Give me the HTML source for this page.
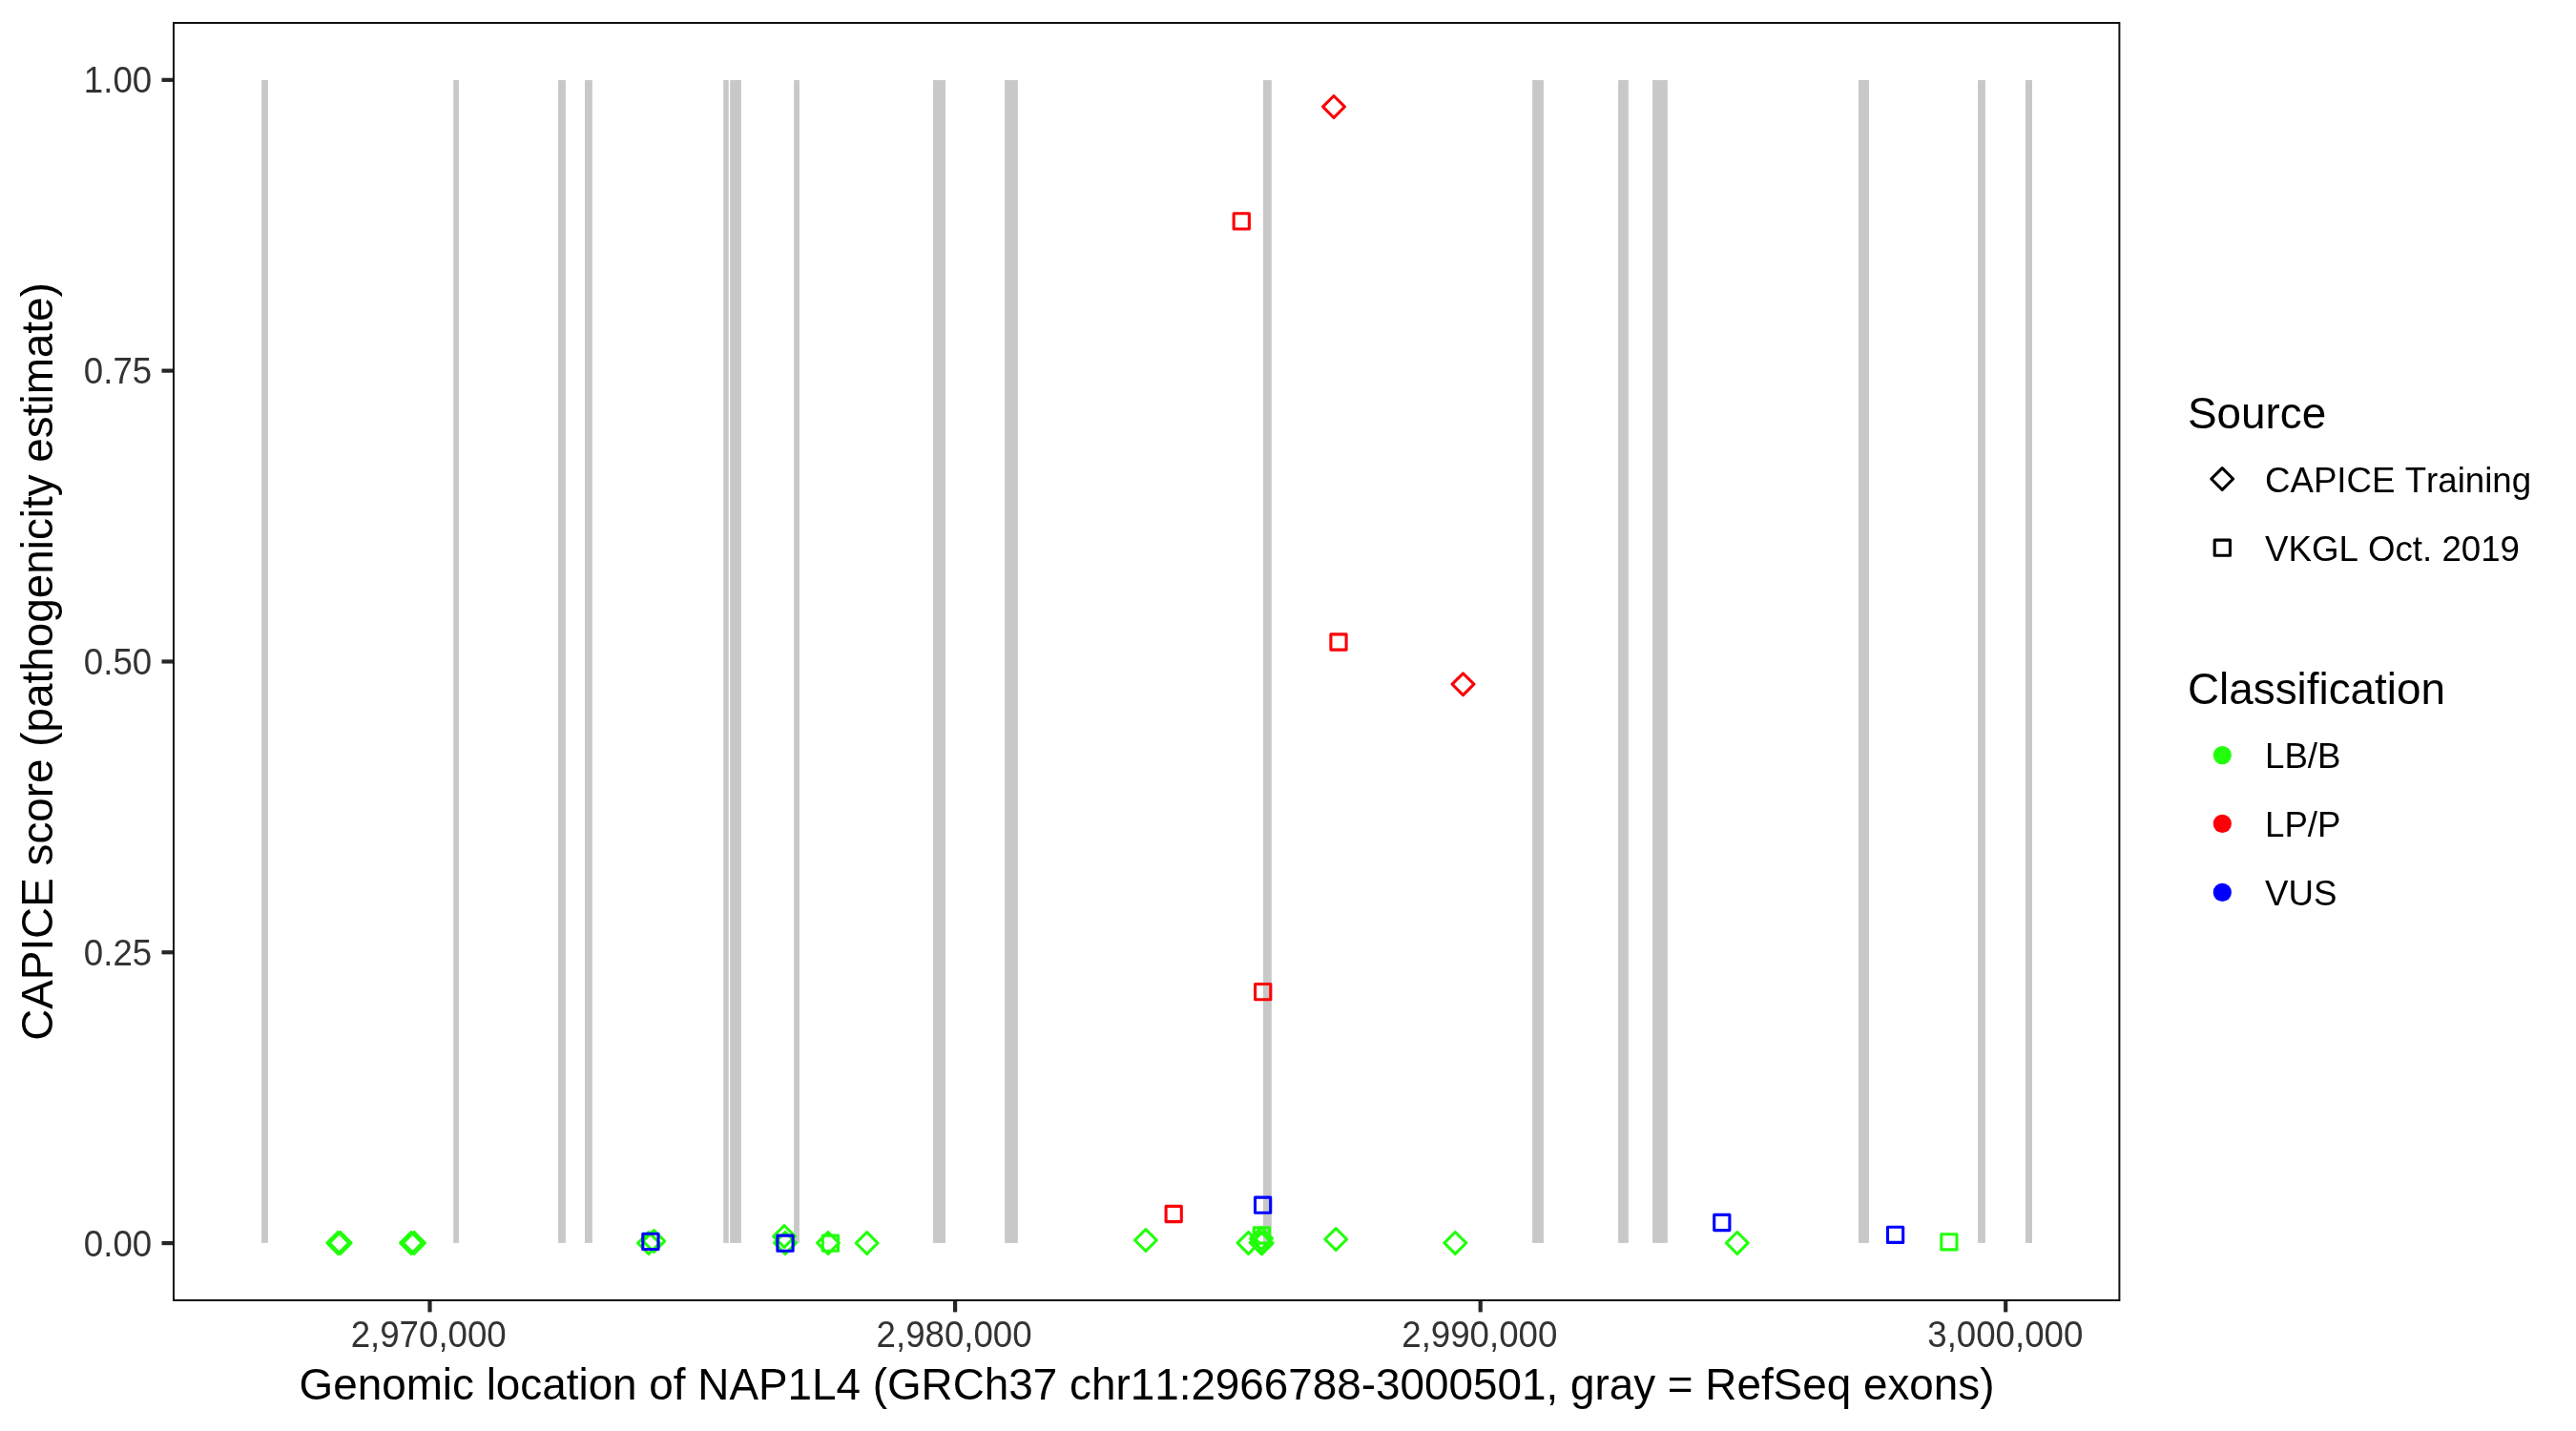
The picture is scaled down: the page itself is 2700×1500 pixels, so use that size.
<!DOCTYPE html>
<html><head><meta charset="utf-8"><title>CAPICE NAP1L4</title>
<style>
html,body{margin:0;padding:0;background:#fff;width:2700px;height:1500px;overflow:hidden}
svg{display:block;will-change:transform}
text{font-family:"Liberation Sans",Arial,Helvetica,sans-serif;font-kerning:none}
</style></head><body>
<svg width="2700" height="1500" viewBox="0 0 2700 1500">
<rect width="2700" height="1500" fill="#fff"/>

<g fill="#c8c8c8">
<rect x="274.1" y="84.0" width="6.8" height="1218.9"/>
<rect x="475.2" y="84.0" width="5.7" height="1218.9"/>
<rect x="585.1" y="84.0" width="7.8" height="1218.9"/>
<rect x="613.0" y="84.0" width="7.8" height="1218.9"/>
<rect x="758.2" y="84.0" width="5.5" height="1218.9"/>
<rect x="765.2" y="84.0" width="11.7" height="1218.9"/>
<rect x="832.1" y="84.0" width="5.8" height="1218.9"/>
<rect x="978.0" y="84.0" width="13.0" height="1218.9"/>
<rect x="1053.1" y="84.0" width="13.7" height="1218.9"/>
<rect x="1324.0" y="84.0" width="8.8" height="1218.9"/>
<rect x="1606.1" y="84.0" width="11.8" height="1218.9"/>
<rect x="1696.1" y="84.0" width="10.7" height="1218.9"/>
<rect x="1732.1" y="84.0" width="15.7" height="1218.9"/>
<rect x="1948.0" y="84.0" width="11.0" height="1218.9"/>
<rect x="2073.1" y="84.0" width="7.8" height="1218.9"/>
<rect x="2123.0" y="84.0" width="7.0" height="1218.9"/>
</g>
<g fill="none" stroke-width="3.1" stroke-linejoin="round">
<path d="M354.30 1291.50L365.70 1302.90L354.30 1314.30L342.90 1302.90Z" stroke="#22ff0b"/>
<path d="M356.70 1291.50L368.10 1302.90L356.70 1314.30L345.30 1302.90Z" stroke="#22ff0b"/>
<path d="M431.00 1291.50L442.40 1302.90L431.00 1314.30L419.60 1302.90Z" stroke="#22ff0b"/>
<path d="M434.00 1291.50L445.40 1302.90L434.00 1314.30L422.60 1302.90Z" stroke="#22ff0b"/>
<path d="M679.90 1291.60L691.30 1303.00L679.90 1314.40L668.50 1303.00Z" stroke="#22ff0b"/>
<path d="M685.40 1289.60L696.80 1301.00L685.40 1312.40L674.00 1301.00Z" stroke="#22ff0b"/>
<path d="M822.00 1284.60L833.40 1296.00L822.00 1307.40L810.60 1296.00Z" stroke="#22ff0b"/>
<path d="M823.00 1291.50L834.40 1302.90L823.00 1314.30L811.60 1302.90Z" stroke="#22ff0b"/>
<path d="M868.00 1291.50L879.40 1302.90L868.00 1314.30L856.60 1302.90Z" stroke="#22ff0b"/>
<path d="M908.60 1291.60L920.00 1303.00L908.60 1314.40L897.20 1303.00Z" stroke="#22ff0b"/>
<path d="M1200.90 1288.60L1212.30 1300.00L1200.90 1311.40L1189.50 1300.00Z" stroke="#22ff0b"/>
<path d="M1308.50 1291.50L1319.90 1302.90L1308.50 1314.30L1297.10 1302.90Z" stroke="#22ff0b"/>
<path d="M1321.50 1291.10L1332.90 1302.50L1321.50 1313.90L1310.10 1302.50Z" stroke="#22ff0b"/>
<path d="M1322.00 1286.80L1333.40 1298.20L1322.00 1309.60L1310.60 1298.20Z" stroke="#22ff0b"/>
<path d="M1322.70 1291.80L1334.10 1303.20L1322.70 1314.60L1311.30 1303.20Z" stroke="#22ff0b"/>
<path d="M1400.20 1287.60L1411.60 1299.00L1400.20 1310.40L1388.80 1299.00Z" stroke="#22ff0b"/>
<path d="M1525.30 1291.50L1536.70 1302.90L1525.30 1314.30L1513.90 1302.90Z" stroke="#22ff0b"/>
<path d="M1820.80 1291.50L1832.20 1302.90L1820.80 1314.30L1809.40 1302.90Z" stroke="#22ff0b"/>
<path d="M1398.00 100.50L1409.40 111.90L1398.00 123.30L1386.60 111.90Z" stroke="#fb0007"/>
<path d="M1533.50 705.80L1544.90 717.20L1533.50 728.60L1522.10 717.20Z" stroke="#fb0007"/>
<rect x="862.30" y="1295.10" width="16.20" height="16.20" stroke="#22ff0b"/>
<rect x="1314.30" y="1286.90" width="16.20" height="16.20" stroke="#22ff0b"/>
<rect x="2034.80" y="1293.70" width="16.20" height="16.20" stroke="#22ff0b"/>
<rect x="1293.15" y="223.80" width="16.20" height="16.20" stroke="#fb0007"/>
<rect x="1394.90" y="664.90" width="16.20" height="16.20" stroke="#fb0007"/>
<rect x="1222.10" y="1264.40" width="16.20" height="16.20" stroke="#fb0007"/>
<rect x="1315.60" y="1031.50" width="16.20" height="16.20" stroke="#fb0007"/>
<rect x="673.80" y="1293.30" width="16.20" height="16.20" stroke="#0000ff"/>
<rect x="814.90" y="1295.10" width="16.20" height="16.20" stroke="#0000ff"/>
<rect x="1315.50" y="1255.10" width="16.20" height="16.20" stroke="#0000ff"/>
<rect x="1796.70" y="1273.40" width="16.20" height="16.20" stroke="#0000ff"/>
<rect x="1978.50" y="1286.20" width="16.20" height="16.20" stroke="#0000ff"/>
</g>
<g stroke="#262626" stroke-width="4.2">
<line x1="169.5" y1="1303.10" x2="182.0" y2="1303.10"/>
<line x1="169.5" y1="998.27" x2="182.0" y2="998.27"/>
<line x1="169.5" y1="693.45" x2="182.0" y2="693.45"/>
<line x1="169.5" y1="388.62" x2="182.0" y2="388.62"/>
<line x1="169.5" y1="83.80" x2="182.0" y2="83.80"/>
<line x1="450.5" y1="1363.0" x2="450.5" y2="1375.4"/>
<line x1="1001.1" y1="1363.0" x2="1001.1" y2="1375.4"/>
<line x1="1551.7" y1="1363.0" x2="1551.7" y2="1375.4"/>
<line x1="2102.2" y1="1363.0" x2="2102.2" y2="1375.4"/>
</g>
<rect x="182.0" y="24.0" width="2039.4" height="1339.0" fill="none" stroke="#111111" stroke-width="2"/>
<g fill="#333333" font-size="36.67px">
<text transform="translate(159.2 1317) scale(1 1.035)" text-anchor="end">0.00</text>
<text transform="translate(159.2 1012) scale(1 1.035)" text-anchor="end">0.25</text>
<text transform="translate(159.2 707) scale(1 1.035)" text-anchor="end">0.50</text>
<text transform="translate(159.2 402) scale(1 1.035)" text-anchor="end">0.75</text>
<text transform="translate(159.2 97) scale(1 1.035)" text-anchor="end">1.00</text>
<text transform="translate(449.20 1412.4) scale(1 1.035)" text-anchor="middle">2,970,000</text>
<text transform="translate(1000.10 1412.4) scale(1 1.035)" text-anchor="middle">2,980,000</text>
<text transform="translate(1550.80 1412.4) scale(1 1.035)" text-anchor="middle">2,990,000</text>
<text transform="translate(2101.80 1412.4) scale(1 1.035)" text-anchor="middle">3,000,000</text>
</g>
<text x="1202" y="1466.6" font-size="45.83px" text-anchor="middle" fill="#000">Genomic location of NAP1L4 (GRCh37 chr11:2966788-3000501, gray = RefSeq exons)</text>
<text transform="translate(55.1 693.5) rotate(-90)" x="0" y="0" font-size="45.83px" text-anchor="middle" fill="#000">CAPICE score (pathogenicity estimate)</text>
<text x="2293" y="448.9" font-size="45.83px" fill="#000">Source</text>
<path d="M2329.2 490.60L2340.60 502.0L2329.2 513.40L2317.80 502.0Z" fill="none" stroke="#000" stroke-width="3.1" stroke-linejoin="round"/>
<rect x="2321.20" y="566.10" width="16.2" height="16.2" fill="none" stroke="#000" stroke-width="3.1" stroke-linejoin="round"/>
<text x="2374" y="516.4" font-size="36.67px" fill="#000">CAPICE Training</text>
<text x="2374" y="588.1" font-size="36.67px" fill="#000">VKGL Oct. 2019</text>
<text x="2293" y="738.4" font-size="45.83px" fill="#000">Classification</text>
<circle cx="2329.3" cy="791.6" r="9.6" fill="#22ff0b"/>
<text x="2374" y="805.1" font-size="36.67px" fill="#000">LB/B</text>
<circle cx="2329.3" cy="863.4" r="9.6" fill="#fb0007"/>
<text x="2374" y="877.0" font-size="36.67px" fill="#000">LP/P</text>
<circle cx="2329.3" cy="935.4" r="9.6" fill="#0000ff"/>
<text x="2374" y="948.5" font-size="36.67px" fill="#000">VUS</text>
</svg>
</body></html>
